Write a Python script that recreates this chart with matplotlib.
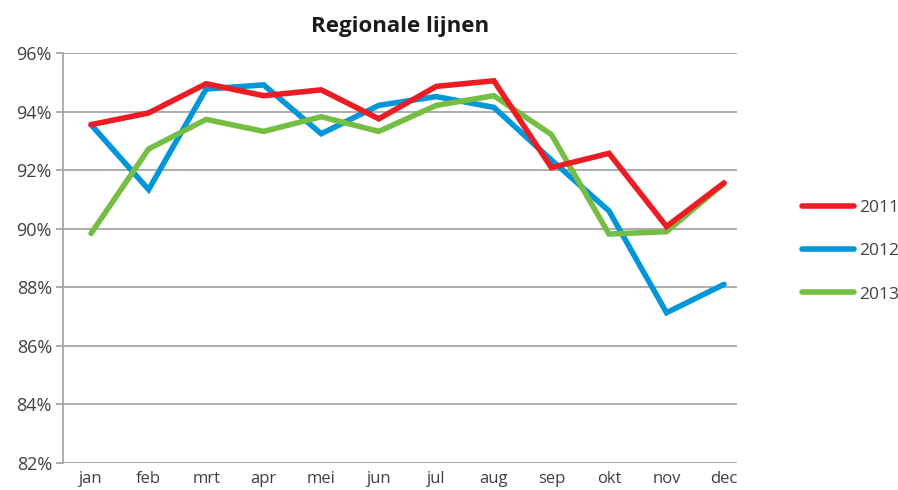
import numpy as np
import matplotlib
matplotlib.use('Agg')
import matplotlib.pyplot as plt
from matplotlib.ticker import FuncFormatter

plt.rcParams['font.family'] = ['Open Sans', 'DejaVu Sans']

# maanden en waarden (in %)
maanden = ['jan', 'feb', 'mrt', 'apr', 'mei', 'jun', 'jul', 'aug', 'sep', 'okt', 'nov', 'dec']
jaar_2011 = [93.56, 93.96, 94.96, 94.55, 94.75, 93.76, 94.87, 95.06, 92.09, 92.58, 90.08, 91.57]
jaar_2012 = [93.56, 91.34, 94.78, 94.92, 93.25, 94.22, 94.52, 94.15, 92.35, 90.61, 87.13, 88.10]
jaar_2013 = [89.84, 92.73, 93.74, 93.33, 93.83, 93.33, 94.22, 94.55, 93.22, 89.82, 89.90, 91.55]

kleuren = {'2011': '#ED1C24', '2012': '#0096D9', '2013': '#74BE43'}
grijs = '#A6A6A6'
tekst = '#404040'

fig = plt.figure(figsize=(8.98, 4.90), dpi=100)
ax = fig.add_axes([0.0702, 0.0557, 0.7506, 0.8355])

x = np.arange(len(maanden))
ax.plot(x, jaar_2011, color=kleuren['2011'], lw=4.0, label='2011', zorder=4,
        solid_capstyle='round', solid_joinstyle='miter')
ax.plot(x, jaar_2012, color=kleuren['2012'], lw=4.0, label='2012', zorder=2,
        solid_capstyle='round', solid_joinstyle='miter')
ax.plot(x, jaar_2013, color=kleuren['2013'], lw=4.0, label='2013', zorder=3,
        solid_capstyle='round', solid_joinstyle='miter')

ax.set_ylim(82, 96)
ax.set_yticks(np.arange(82, 97, 2))
ax.yaxis.set_major_formatter(FuncFormatter(lambda v, p: f'{v:.0f}%'))
ax.set_xlim(-0.487, 11.226)
ax.set_xticks(x)
ax.set_xticklabels(maanden)

ax.grid(axis='y', color=grijs, lw=1.3)
ax.set_axisbelow(True)
for kant in ['top', 'right', 'bottom']:
    ax.spines[kant].set_visible(False)
ax.spines['left'].set_color(grijs)
ax.spines['left'].set_linewidth(1.3)
ax.tick_params(axis='y', length=5, width=1.3, color=grijs, labelsize=13,
               labelcolor=tekst, pad=3)
ax.tick_params(axis='x', length=0, labelsize=12, labelcolor=tekst, pad=6)

ax.set_title('Regionale lijnen', fontsize=16, fontweight='bold', color='#1a1a1a', pad=15)

fig.legend(loc='center left', bbox_to_anchor=(0.885, 0.487), frameon=False,
           fontsize=12.5, handlelength=3.0, handletextpad=0.3, labelspacing=1.55,
           labelcolor=tekst, borderaxespad=0)

fig.savefig('out.png', dpi=100)
